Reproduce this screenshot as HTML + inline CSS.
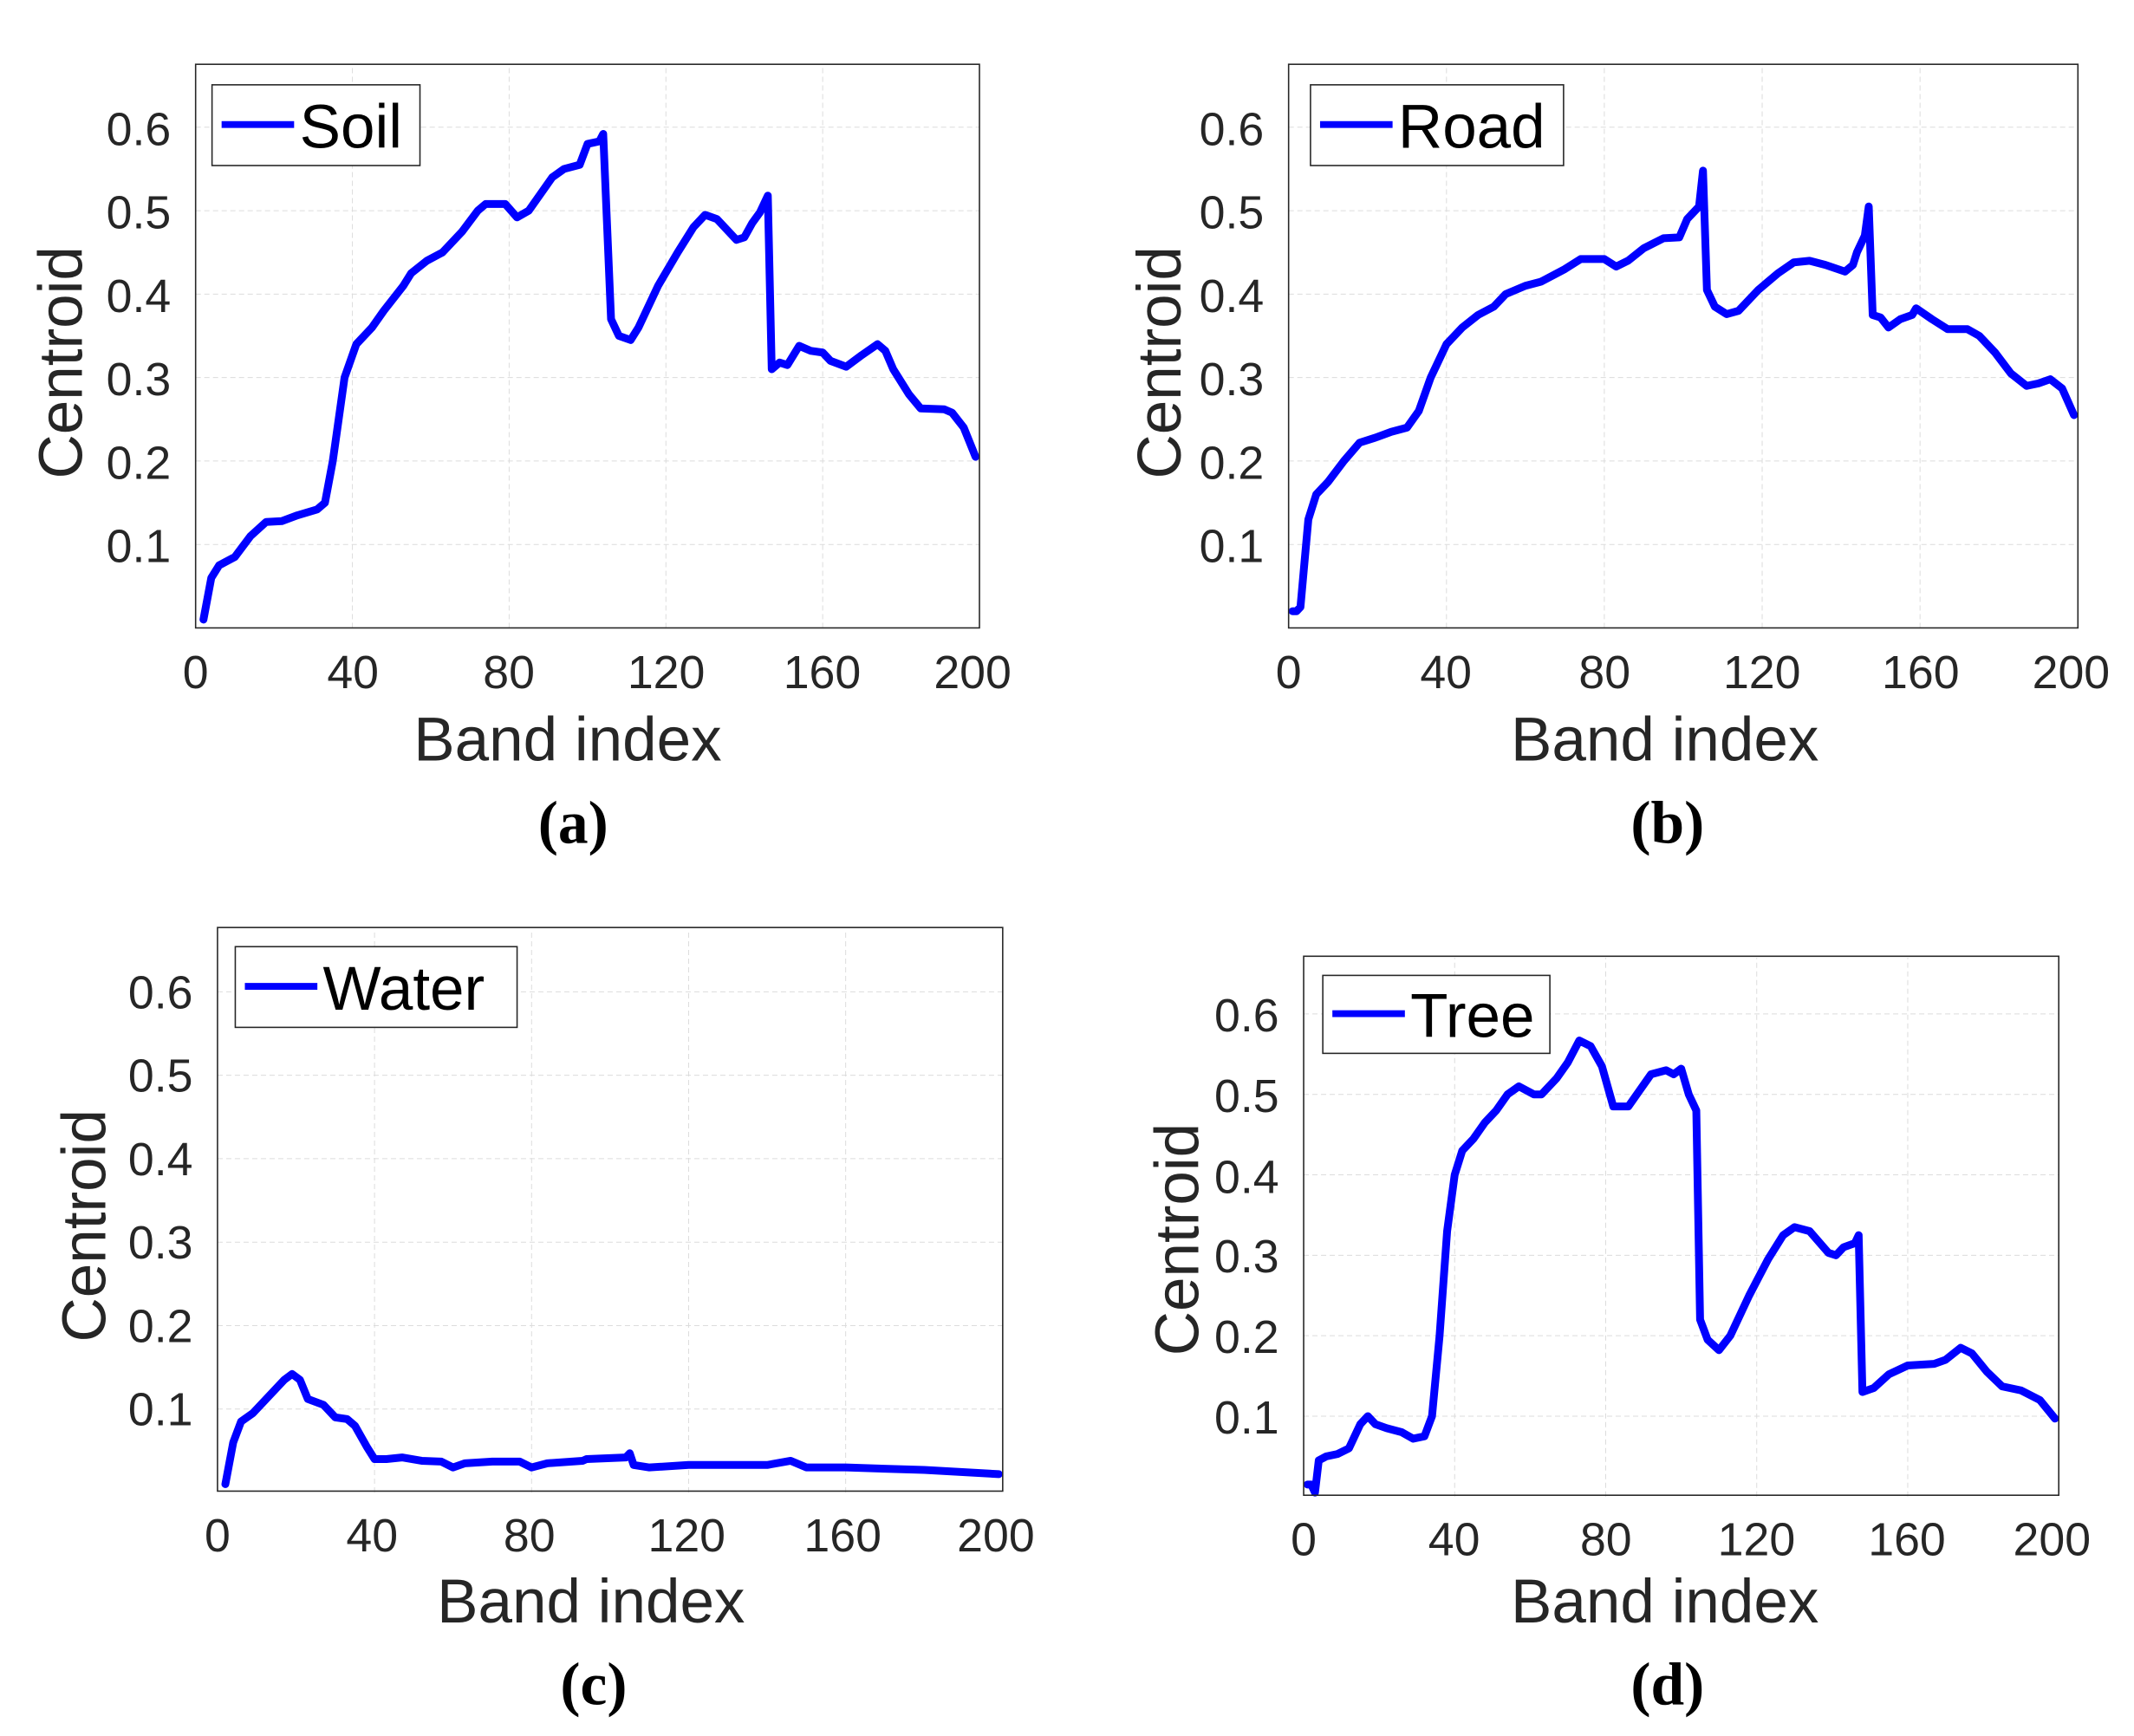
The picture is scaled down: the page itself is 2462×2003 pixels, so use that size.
<!DOCTYPE html>
<html><head><meta charset="utf-8"><style>
html,body{margin:0;padding:0;background:#fff;}
svg{display:block;}
text{font-family:"Liberation Sans",sans-serif;fill:#262626;}
.tk{font-size:34px;}
.lab{font-size:45px;}
.leg{font-size:45px;fill:#000;}
.cap{font-family:"Liberation Serif",serif;font-weight:bold;font-size:44px;fill:#000;}
.g{stroke:#dcdcdc;stroke-width:1;stroke-dasharray:6 4;fill:none;}
.ln{fill:none;stroke:#0000ff;stroke-width:9;stroke-linejoin:round;stroke-linecap:round;}
</style></head><body>
<svg xmlns="http://www.w3.org/2000/svg" width="2462" height="2003" viewBox="0 0 1560 1269" preserveAspectRatio="none">
<rect width="1560" height="1269" fill="#fff"/>

<!-- Panel a -->
<g>
<g transform="translate(143,459) scale(2.865,-610)">
<g class="g">
<line x1="40" y1="0" x2="40" y2="0.675" vector-effect="non-scaling-stroke"/><line x1="80" y1="0" x2="80" y2="0.675" vector-effect="non-scaling-stroke"/><line x1="120" y1="0" x2="120" y2="0.675" vector-effect="non-scaling-stroke"/><line x1="160" y1="0" x2="160" y2="0.675" vector-effect="non-scaling-stroke"/>
<line x1="0" y1="0.1" x2="200" y2="0.1" vector-effect="non-scaling-stroke"/><line x1="0" y1="0.2" x2="200" y2="0.2" vector-effect="non-scaling-stroke"/><line x1="0" y1="0.3" x2="200" y2="0.3" vector-effect="non-scaling-stroke"/><line x1="0" y1="0.4" x2="200" y2="0.4" vector-effect="non-scaling-stroke"/><line x1="0" y1="0.5" x2="200" y2="0.5" vector-effect="non-scaling-stroke"/><line x1="0" y1="0.6" x2="200" y2="0.6" vector-effect="non-scaling-stroke"/>
</g>
<polyline class="ln" vector-effect="non-scaling-stroke" points="2,0.01 4,0.06 6,0.075 10,0.085 14,0.11 18,0.127 22,0.128 26,0.135 31,0.142 33,0.15 35,0.2 38,0.3 41,0.34 45,0.36 48,0.38 53,0.41 55,0.425 59,0.44 63,0.45 68,0.475 72,0.5 74,0.508 79,0.508 82,0.492 85,0.5 88,0.52 91,0.54 94,0.55 98,0.555 100,0.58 103,0.583 104,0.592 106,0.37 108,0.35 111,0.345 113,0.36 118,0.41 123,0.45 127,0.48 130,0.495 133,0.49 138,0.465 140,0.468 142,0.485 144,0.498 146,0.518 147,0.31 149,0.318 151,0.315 154,0.338 157,0.332 160,0.33 162,0.32 166,0.313 170,0.327 174,0.34 176,0.332 178,0.31 182,0.28 185,0.263 191,0.262 193,0.258 196,0.24 199,0.205"/>
</g>
<rect x="143" y="47" width="573" height="412" fill="none" stroke="#262626" stroke-width="1"/>
<g class="tk" text-anchor="end"><text x="125" y="411">0.1</text><text x="125" y="350">0.2</text><text x="125" y="289">0.3</text><text x="125" y="228">0.4</text><text x="125" y="167">0.5</text><text x="125" y="106">0.6</text></g>
<g class="tk" text-anchor="middle"><text x="143" y="503">0</text><text x="258" y="503">40</text><text x="372" y="503">80</text><text x="487" y="503">120</text><text x="601" y="503">160</text><text x="711" y="503">200</text></g>
<text class="lab" text-anchor="middle" x="415" y="556">Band index</text>
<text class="lab" text-anchor="middle" transform="translate(60,265) rotate(-90)">Centroid</text>
<text class="cap" text-anchor="middle" x="419" y="616">(a)</text>
<rect x="155" y="62" width="152" height="59" fill="#fff" stroke="#262626" stroke-width="1"/>
<line x1="162" y1="91" x2="215" y2="91" stroke="#0000ff" stroke-width="5"/>
<text class="leg" x="219" y="108">Soil</text>
</g>

<!-- Panel b -->
<g>
<g transform="translate(942,459) scale(2.885,-610)">
<g class="g">
<line x1="40" y1="0" x2="40" y2="0.675" vector-effect="non-scaling-stroke"/><line x1="80" y1="0" x2="80" y2="0.675" vector-effect="non-scaling-stroke"/><line x1="120" y1="0" x2="120" y2="0.675" vector-effect="non-scaling-stroke"/><line x1="160" y1="0" x2="160" y2="0.675" vector-effect="non-scaling-stroke"/>
<line x1="0" y1="0.1" x2="200" y2="0.1" vector-effect="non-scaling-stroke"/><line x1="0" y1="0.2" x2="200" y2="0.2" vector-effect="non-scaling-stroke"/><line x1="0" y1="0.3" x2="200" y2="0.3" vector-effect="non-scaling-stroke"/><line x1="0" y1="0.4" x2="200" y2="0.4" vector-effect="non-scaling-stroke"/><line x1="0" y1="0.5" x2="200" y2="0.5" vector-effect="non-scaling-stroke"/><line x1="0" y1="0.6" x2="200" y2="0.6" vector-effect="non-scaling-stroke"/>
</g>
<polyline class="ln" vector-effect="non-scaling-stroke" points="1,0.02 2,0.02 3,0.025 5,0.13 7,0.16 10,0.175 14,0.2 18,0.222 22,0.228 26,0.235 30,0.24 33,0.26 36,0.3 40,0.34 44,0.36 48,0.375 52,0.385 55,0.4 60,0.41 64,0.415 70,0.43 74,0.442 80,0.442 83,0.433 86,0.44 90,0.455 95,0.467 99,0.468 101,0.49 104,0.505 105,0.548 106,0.405 108,0.385 111,0.376 114,0.38 119,0.405 124,0.425 128,0.438 132,0.44 136,0.435 141,0.427 143,0.435 144,0.45 146,0.47 147,0.505 148,0.375 150,0.372 152,0.36 155,0.37 158,0.375 159,0.383 163,0.37 167,0.358 172,0.358 175,0.35 179,0.33 183,0.305 187,0.29 190,0.293 193,0.298 196,0.287 199,0.255"/>
</g>
<rect x="942" y="47" width="577" height="412" fill="none" stroke="#262626" stroke-width="1"/>
<g class="tk" text-anchor="end"><text x="924" y="411">0.1</text><text x="924" y="350">0.2</text><text x="924" y="289">0.3</text><text x="924" y="228">0.4</text><text x="924" y="167">0.5</text><text x="924" y="106">0.6</text></g>
<g class="tk" text-anchor="middle"><text x="942" y="503">0</text><text x="1057" y="503">40</text><text x="1173" y="503">80</text><text x="1288" y="503">120</text><text x="1404" y="503">160</text><text x="1514" y="503">200</text></g>
<text class="lab" text-anchor="middle" x="1217" y="556">Band index</text>
<text class="lab" text-anchor="middle" transform="translate(863,265) rotate(-90)">Centroid</text>
<text class="cap" text-anchor="middle" x="1219" y="616">(b)</text>
<rect x="958" y="62" width="185" height="59" fill="#fff" stroke="#262626" stroke-width="1"/>
<line x1="965" y1="91" x2="1018" y2="91" stroke="#0000ff" stroke-width="5"/>
<text class="leg" x="1022" y="108">Road</text>
</g>

<!-- Panel c -->
<g>
<g transform="translate(159,1091) scale(2.87,-610)">
<g class="g">
<line x1="40" y1="0" x2="40" y2="0.675" vector-effect="non-scaling-stroke"/><line x1="80" y1="0" x2="80" y2="0.675" vector-effect="non-scaling-stroke"/><line x1="120" y1="0" x2="120" y2="0.675" vector-effect="non-scaling-stroke"/><line x1="160" y1="0" x2="160" y2="0.675" vector-effect="non-scaling-stroke"/>
<line x1="0" y1="0.1" x2="200" y2="0.1" vector-effect="non-scaling-stroke"/><line x1="0" y1="0.2" x2="200" y2="0.2" vector-effect="non-scaling-stroke"/><line x1="0" y1="0.3" x2="200" y2="0.3" vector-effect="non-scaling-stroke"/><line x1="0" y1="0.4" x2="200" y2="0.4" vector-effect="non-scaling-stroke"/><line x1="0" y1="0.5" x2="200" y2="0.5" vector-effect="non-scaling-stroke"/><line x1="0" y1="0.6" x2="200" y2="0.6" vector-effect="non-scaling-stroke"/>
</g>
<polyline class="ln" vector-effect="non-scaling-stroke" points="2,0.01 4,0.06 6,0.085 9,0.095 13,0.115 17,0.135 19,0.142 21,0.135 23,0.112 27,0.105 30,0.09 33,0.088 35,0.08 38,0.055 40,0.04 43,0.04 47,0.042 52,0.038 57,0.037 60,0.03 63,0.035 70,0.037 77,0.037 80,0.03 84,0.035 93,0.038 94,0.04 104,0.042 105,0.047 106,0.033 110,0.03 120,0.033 140,0.033 146,0.038 150,0.03 160,0.03 180,0.027 199,0.022"/>
</g>
<rect x="159" y="678" width="574" height="412" fill="none" stroke="#262626" stroke-width="1"/>
<g class="tk" text-anchor="end"><text x="141" y="1042">0.1</text><text x="141" y="981">0.2</text><text x="141" y="920">0.3</text><text x="141" y="859">0.4</text><text x="141" y="798">0.5</text><text x="141" y="737">0.6</text></g>
<g class="tk" text-anchor="middle"><text x="159" y="1134">0</text><text x="272" y="1134">40</text><text x="387" y="1134">80</text><text x="502" y="1134">120</text><text x="616" y="1134">160</text><text x="728" y="1134">200</text></g>
<text class="lab" text-anchor="middle" x="432" y="1186">Band index</text>
<text class="lab" text-anchor="middle" transform="translate(77,896) rotate(-90)">Centroid</text>
<text class="cap" text-anchor="middle" x="434" y="1246">(c)</text>
<rect x="172" y="692" width="206" height="59" fill="#fff" stroke="#262626" stroke-width="1"/>
<line x1="179" y1="721" x2="232" y2="721" stroke="#0000ff" stroke-width="5"/>
<text class="leg" x="236" y="738">Water</text>
</g>

<!-- Panel d -->
<g>
<g transform="translate(953,1094) scale(2.76,-588)">
<g class="g">
<line x1="40" y1="0" x2="40" y2="0.67" vector-effect="non-scaling-stroke"/><line x1="80" y1="0" x2="80" y2="0.67" vector-effect="non-scaling-stroke"/><line x1="120" y1="0" x2="120" y2="0.67" vector-effect="non-scaling-stroke"/><line x1="160" y1="0" x2="160" y2="0.67" vector-effect="non-scaling-stroke"/>
<line x1="0" y1="0.1" x2="200" y2="0.1" vector-effect="non-scaling-stroke"/><line x1="0" y1="0.2" x2="200" y2="0.2" vector-effect="non-scaling-stroke"/><line x1="0" y1="0.3" x2="200" y2="0.3" vector-effect="non-scaling-stroke"/><line x1="0" y1="0.4" x2="200" y2="0.4" vector-effect="non-scaling-stroke"/><line x1="0" y1="0.5" x2="200" y2="0.5" vector-effect="non-scaling-stroke"/><line x1="0" y1="0.6" x2="200" y2="0.6" vector-effect="non-scaling-stroke"/>
</g>
<polyline class="ln" vector-effect="non-scaling-stroke" points="1,0.015 2,0.015 3,0.005 4,0.045 6,0.05 9,0.053 12,0.06 15,0.09 17,0.1 19,0.09 22,0.085 26,0.08 29,0.072 32,0.075 34,0.1 36,0.2 38,0.33 40,0.4 42,0.43 45,0.445 48,0.465 51,0.48 54,0.5 57,0.51 61,0.5 63,0.5 67,0.52 70,0.54 73,0.567 76,0.56 79,0.535 82,0.485 86,0.485 89,0.505 92,0.525 96,0.53 98,0.525 100,0.532 102,0.5 104,0.48 105,0.22 107,0.195 110,0.182 113,0.2 118,0.25 123,0.295 127,0.325 130,0.335 134,0.33 139,0.303 141,0.3 143,0.31 146,0.315 147,0.325 148,0.13 151,0.135 155,0.152 160,0.163 167,0.165 170,0.17 174,0.185 177,0.178 181,0.155 185,0.137 190,0.132 195,0.12 199,0.097"/>
</g>
<rect x="953" y="699" width="552" height="394" fill="none" stroke="#262626" stroke-width="1"/>
<g class="tk" text-anchor="end"><text x="935" y="1048">0.1</text><text x="935" y="989">0.2</text><text x="935" y="930">0.3</text><text x="935" y="872">0.4</text><text x="935" y="813">0.5</text><text x="935" y="754">0.6</text></g>
<g class="tk" text-anchor="middle"><text x="953" y="1137">0</text><text x="1063" y="1137">40</text><text x="1174" y="1137">80</text><text x="1284" y="1137">120</text><text x="1394" y="1137">160</text><text x="1500" y="1137">200</text></g>
<text class="lab" text-anchor="middle" x="1217" y="1186">Band index</text>
<text class="lab" text-anchor="middle" transform="translate(876,906) rotate(-90)">Centroid</text>
<text class="cap" text-anchor="middle" x="1219" y="1246">(d)</text>
<rect x="967" y="713" width="166" height="57" fill="#fff" stroke="#262626" stroke-width="1"/>
<line x1="974" y1="741" x2="1027" y2="741" stroke="#0000ff" stroke-width="5"/>
<text class="leg" x="1031" y="758">Tree</text>
</g>
</svg>
</body></html>
